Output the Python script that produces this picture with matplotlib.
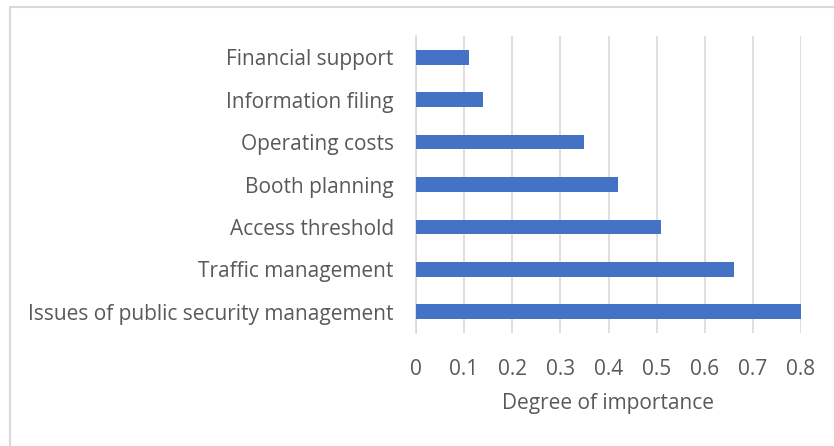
import matplotlib.pyplot as plt
from matplotlib.patches import Rectangle

# data (top to bottom)
categories = ['Financial support', 'Information filing', 'Operating costs',
              'Booth planning', 'Access threshold', 'Traffic management',
              'Issues of public security management']
importance = [0.11, 0.14, 0.35, 0.42, 0.51, 0.66, 0.80]
x_ticks = [0, 0.1, 0.2, 0.3, 0.4, 0.5, 0.6, 0.7, 0.8]
x_tick_labels = ['0', '0.1', '0.2', '0.3', '0.4', '0.5', '0.6', '0.7', '0.8']

plt.rcParams['font.family'] = ['Open Sans', 'DejaVu Sans']
text_color = '#595959'

fig = plt.figure(figsize=(8.34, 4.46), dpi=100)
W, H = 834, 446
ax = fig.add_axes([416 / W, 1 - 333 / H, (801 - 416) / W, (333 - 36) / H])

# light grey chart frame
fig.patches.append(Rectangle((9.5 / W, -0.05), 1.1, 1 - 6.5 / H + 0.05,
                             transform=fig.transFigure, fill=False,
                             edgecolor='#D9D9D9', linewidth=1.5))

y_pos = list(range(len(categories)))[::-1]
ax.barh(y_pos, importance, height=0.35, color='#4472C4', zorder=3)

ax.set_xlim(0, 0.8)
ax.set_ylim(-0.5, len(categories) - 0.5)
ax.set_xticks(x_ticks)
ax.set_xticklabels(x_tick_labels)
ax.set_yticks(y_pos)
ax.set_yticklabels(categories)
ax.grid(axis='x', color='#D9D9D9', linewidth=1.2, zorder=0)
ax.tick_params(length=0, labelsize=15, labelcolor=text_color)
ax.tick_params(axis='x', pad=19)
ax.tick_params(axis='y', pad=16)

for side in ['top', 'right', 'bottom']:
    ax.spines[side].set_visible(False)
ax.spines['left'].set_color('#D9D9D9')
ax.spines['left'].set_linewidth(1.2)

ax.set_xlabel('Degree of importance', fontsize=15, color=text_color, labelpad=9)

fig.savefig('out.png', dpi=100)
